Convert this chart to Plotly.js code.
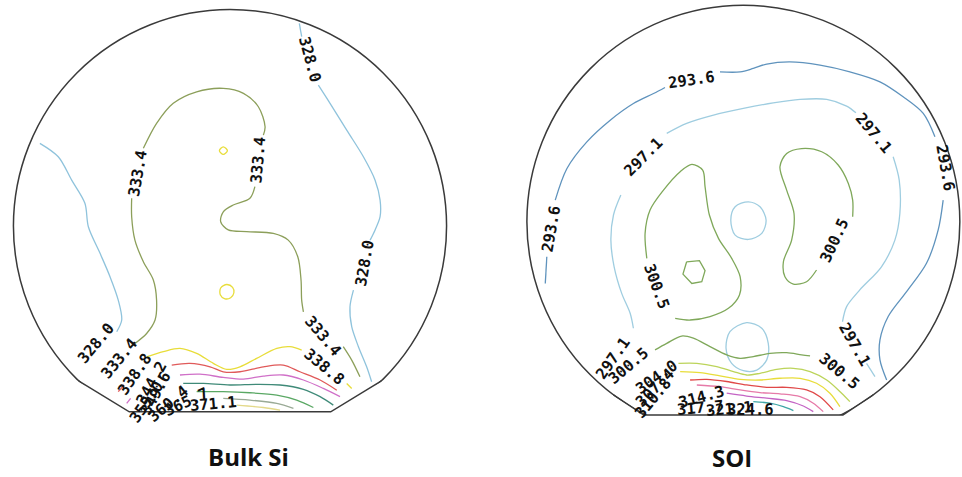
<!DOCTYPE html>
<html>
<head>
<meta charset="utf-8">
<script src="https://cdn.plot.ly/plotly-3.0.1.min.js"></script>
<style>html,body{margin:0;padding:0;background:#fff;}#chart{width:962px;height:477px;}</style>
</head>
<body>
<div id="chart"></div>
<script>
// ---------- DATA (wafer coordinates in mm, wafer radius 100 mm) ----------
const panelTitles = ["Bulk Si", "SOI"];

// Bulk Si contour levels
const bulkLevels = ["328.0", "333.4", "338.8", "344.2", "349.6", "355.0", "360.4", "365.7", "371.1"];

const bulk328 = [[-87.8,38.2],[-79.3,32.0],[-73.1,21.2],[-67.0,10.5],[-65.4,-0.3],[-60.0,-12.6],[-55.4,-23.4],[-51.6,-34.2],[-50.0,-43.4],[-52.3,-48.8],
  null,[32.0,93.6],[33.1,87.5],
  null,[40.8,65.1],[46.2,56.7],[53.9,44.3],[61.6,32.0],[67.0,21.2],[69.3,12.0],[69.3,4.3],[67.0,-1.8],[64.7,-6.5],
  null,[57.0,-29.6],[55.4,-37.3],[56.2,-46.5],[59.3,-55.7],[63.1,-65.0],[65.4,-71.9]];
const bulk333 = [[-43.9,-54.2],[-38.5,-49.6],[-34.6,-43.4],[-33.9,-34.2],[-35.4,-24.9],[-40.0,-16.5],[-43.9,-6.5],[-45.4,4.3],[-45.4,12.8],
  null,[-40.0,35.9],[-33.9,47.4],[-26.2,56.7],[-15.4,62.0],[-3.1,63.6],[6.2,61.3],[13.1,55.1],[16.2,45.9],[15.4,42.0],
  null,[11.5,18.2],[9.2,12.8],[1.5,9.7],[-3.1,6.6],[-4.3,2.0],[-0.8,-1.8],[7.7,-2.6],[20.0,-3.4],[26.9,-6.5],[31.3,-14.2],[32.8,-24.9],[33.1,-34.2],[33.9,-39.6],
  null,[52.3,-55.7],[56.2,-61.9],[60.0,-69.6]];
const bulk338 = [[-38.5,-60.4],[-30.8,-58.0],[-23.1,-56.5],[-15.4,-58.8],[-7.7,-63.4],[-1.5,-66.2],[4.6,-65.0],[12.3,-61.1],[21.6,-56.5],[27.7,-55.7],[33.1,-57.3],
  null,[53.9,-72.7],[56.2,-75.0],
  null,[-3.1,36.6],[-1.2,34.8],[-3.1,33.1],[-4.9,34.8],[-3.1,36.6],
  null,[-1.5,-27.0],[1.2,-28.3],[1.8,-30.8],[0.3,-33.1],[-2.3,-33.6],[-4.5,-31.7],[-4.3,-28.6],[-1.5,-27.0]];
const bulk344 = [[-26.9,-64.2],[-18.5,-63.4],[-9.2,-65.0],[-3.1,-67.3],[4.6,-67.3],[15.4,-65.0],[24.6,-64.2],[32.3,-67.3],[41.6,-71.1],[49.3,-75.8],
  null,[-51.6,-76.5],[-48.9,-73.4]];
const bulk349 = [[-23.1,-68.8],[-13.9,-68.4],[-3.1,-69.9],[6.2,-70.7],[15.4,-69.3],[24.6,-68.8],[33.9,-71.1],[43.1,-75.0],[50.8,-78.8],
  null,[-47.7,-81.9],[-45.9,-79.6]];
const bulk355 = [[-21.6,-72.7],[-12.3,-72.7],[0,-73.4],[12.3,-73.1],[23.1,-73.4],[33.9,-75.4],[41.6,-78.8],[47.7,-82.7]];
const bulk360 = [[-15.4,-76.5],[-3.1,-76.5],[9.2,-77.0],[21.6,-78.1],[30.8,-80.4],[38.5,-83.8]];
const bulk365 = [[-3.1,-79.6],[9.2,-80.4],[21.6,-81.9],[29.3,-84.2]];
const bulk371 = [[3.1,-82.7],[15.4,-83.8],[23.1,-85.0]];

// Bulk Si contour labels: [text, x, y, angle]
const bulkLabels = [
  ["328.0",36.9,76.7,75],["328.0",62.4,-17.2,-80],["333.4",-42.3,24.3,-80],["333.4",13.1,30.5,-85],
  ["333.4",42.7,-51.0,50],["338.8",43.5,-65.0,40],["328.0",-61.6,-54.2,-50],["333.4",-50.8,-61.1,-50],
  ["338.8",-43.9,-68.1,-55],["344.2",-36.2,-72.4,-62],["349.6",-34.2,-77.0,-62],["355.0",-38.5,-81.1,-55],
  ["360.4",-28.5,-82.2,-40],["365.7",-20.0,-81.1,-25],["371.1",-7.7,-82.2,-5]];

// SOI contour levels
const soiLevels = ["293.6", "297.1", "300.5", "304.0", "307.4", "310.8", "314.3", "317.7", "321.1"];

const soi293 = [[-91.5,-28.5],[-90.8,-16.2],
  null,[-86.9,10.0],[-81.5,24.6],[-72.3,36.9],[-61.5,46.9],[-50.8,54.6],[-41.5,59.2],[-36.2,62.0],
  null,[-10.8,69.2],[-1.5,69.2],[4.6,70.8],[10.8,72.8],[21.5,73.8],[35.4,72.3],[49.2,69.2],[63.1,64.6],[73.8,57.7],[83.1,50.0],[88.5,39.2],
  null,[92.3,10.0],[90.0,-3.8],[84.6,-19.2],[75.4,-32.3],[66.9,-43.8],[63.1,-54.6],[63.1,-63.8],[66.2,-73.1]];
const soi297 = [[-50.8,-49.2],[-52.3,-42.3],[-56.2,-33.1],[-59.7,-20.8],[-61.2,-8.5],[-60.0,3.1],[-56.6,12.3],
  null,[-35.4,40.8],[-26.2,45.4],[-13.8,49.2],[0.0,52.3],[13.8,54.9],[26.2,56.5],[38.5,56.5],[47.7,53.4],[52.0,50.3],
  null,[69.2,30.0],[72.0,19.2],[72.3,3.8],[70.0,-8.5],[63.8,-20.8],[53.8,-31.5],[47.7,-39.2],[45.8,-46.2],
  null,[56.9,-65.4],[60.8,-71.5],
  null,[2.3,9.2],[7.7,6.9],[10.5,0.8],[8.5,-5.4],[2.3,-8.2],[-3.8,-6.2],[-5.8,0.8],[-3.8,6.9],[2.3,9.2],
  null,[1.5,-46.6],[8.5,-49.2],[11.5,-56.2],[10.8,-63.8],[6.2,-68.5],[0,-68.8],[-5.4,-65.4],[-8.0,-58.5],[-6.2,-50.8],[1.5,-46.6]];
const soi300 = [[-31.5,-44.6],[-24.6,-45.4],[-15.4,-43.8],[-6.9,-40.0],[-1.8,-33.8],[-1.5,-25.4],[-5.4,-16.9],[-11.5,-7.7],[-15.7,3.1],[-17.7,16.2],[-18.8,23.8],[-23.8,26.5],[-29.2,23.1],[-36.9,14.6],[-43.1,5.4],[-45.4,-5.4],[-44.6,-16.9],
  null,[50.5,2.3],[50.5,10.0],[48.5,17.7],[43.8,26.2],[36.2,32.3],[26.9,33.8],[20.0,31.5],[16.9,25.4],[20.0,14.6],[23.4,3.8],[22.3,-8.5],[18.5,-18.5],[19.2,-25.4],[23.1,-28.8],[29.2,-27.7],[33.8,-22.3],
  null,[-40.8,-59.2],[-35.4,-56.2],[-28.5,-52.8],[-23.1,-53.8],[-15.4,-57.7],[-7.7,-61.5],[-1.5,-63.1],[4.6,-62.3],[12.3,-60.8],[20.0,-60.5],[26.9,-61.5],[30.8,-62.0]];
const soi300hex = [[-26.2,-18.5],[-20.3,-18.0],[-17.7,-22.6],[-19.2,-27.7],[-23.8,-28.5],[-27.9,-24.2],[-26.2,-18.5]];
const soi304 = [[-30.0,-65.4],[-21.5,-65.4],[-12.3,-66.9],[-4.6,-69.2],[1.5,-70.8],[7.7,-70.0],[15.4,-68.2],[23.1,-67.7],[30.8,-69.2],[38.5,-73.1],[45.4,-79.2],[49.2,-83.1]];
const soi307 = [[-29.2,-69.2],[-20.0,-69.7],[-10.8,-71.2],[-1.5,-72.8],[7.7,-73.1],[16.9,-72.3],[26.2,-72.3],[33.8,-74.6],[40.0,-79.2],[44.6,-85.4]];
const soi310 = [[-24.6,-73.1],[-16.9,-72.8],[-7.7,-73.8],[1.5,-75.4],[10.8,-76.5],[20.0,-76.5],[29.2,-77.7],[35.4,-80.8],[41.5,-86.9]];
const soi314 = [[-21.5,-75.4],[-10.8,-76.2],[-1.5,-77.7],[7.7,-78.9],[16.9,-79.5],[26.2,-80.8],[32.3,-83.8],[36.9,-87.7]];
const soi317 = [[-7.7,-79.2],[1.5,-80.5],[10.8,-81.5],[20.0,-82.6],[27.7,-85.1],[32.3,-87.7]];
const soi321 = [[4.6,-83.1],[12.3,-83.8],[18.5,-85.4],[23.1,-87.2]];

// SOI contour labels: [text, x, y, angle]
const soiLabels = [
  ["293.6",-23.8,65.4,-8],["293.6",-88.5,-3.1,-80],["293.6",93.1,24.6,80],["297.1",-46.2,30.0,-45],
  ["297.1",60.0,40.8,50],["300.5",-40.0,-30.0,70],["300.5",42.3,-8.5,-65],["297.1",51.5,-56.9,60],
  ["300.5",44.6,-69.2,40],["297.1",-60.0,-63.1,-55],["300.5",-53.1,-66.5,-40],["304.0",-40.0,-71.5,-35],
  ["307.4",-40.8,-76.9,-45],["310.8",-41.5,-81.5,-50],["314.3",-19.2,-80.8,-15],["317.7",-20.0,-86.2,-5],
  ["321.1",-6.2,-86.6,-5],["324.6",3.1,-86.9,0]];

// ---------- STYLE ----------
const bulkColors = ["#8fc3dc","#8c9f5a","#e8dd3a","#e05a5a","#d070c8","#3f8a78","#5aa864","#9aaa96","#e3d98a"];
const soiColors  = ["#5f93bd","#9fcde0","#7fa85a","#bcd45a","#e8dd3a","#e04848","#e67aa8","#c463c4","#3fa6a6"];

function xy(pts){ return {x: pts.map(p => p ? p[0] : null), y: pts.map(p => p ? p[1] : null)}; }
function lineTrace(pts, color, xa, ya, name, shape){
  const d = xy(pts);
  return {type:'scatter', mode:'lines', x:d.x, y:d.y, xaxis:xa, yaxis:ya, name:name,
    line:{color:color, width:1.3, shape: shape || 'spline', smoothing:0.9},
    connectgaps:false, hoverinfo:'skip', showlegend:false};
}

const bulkSets = [bulk328,bulk333,bulk338,bulk344,bulk349,bulk355,bulk360,bulk365,bulk371];
const soiSets  = [soi293,soi297,soi300,soi304,soi307,soi310,soi314,soi317,soi321];

const traces = [];
bulkSets.forEach((s,i) => traces.push(lineTrace(s, bulkColors[i], 'x', 'y', bulkLevels[i])));
soiSets.forEach((s,i) => traces.push(lineTrace(s, soiColors[i], 'x2', 'y2', soiLevels[i])));
traces.push(lineTrace(soi300hex, soiColors[2], 'x2', 'y2', soiLevels[2], 'linear'));

// wafer outlines
const R = 100;
function waferShapes(xr, yr, flatY, flatHalf, kinkY){
  const kx = Math.sqrt(R*R - kinkY*kinkY);
  const oc = '#3a3a3a';
  return [
    {type:'circle', xref:xr, yref:yr, x0:-R, x1:R, y0:-R, y1:R, line:{color:oc, width:1.5}, layer:'above'},
    {type:'path', xref:xr, yref:yr, layer:'above', fillcolor:'#ffffff', line:{width:0},
     path:`M ${-kx-0.6},${kinkY} L ${-flatHalf},${flatY} L ${flatHalf},${flatY} L ${kx+0.6},${kinkY} L ${R+6},${kinkY} L ${R+6},${-R-12} L ${-R-6},${-R-12} L ${-R-6},${kinkY} Z`},
    {type:'path', xref:xr, yref:yr, layer:'above', line:{color:oc, width:1.5},
     path:`M ${-kx},${kinkY} L ${-flatHalf},${flatY} L ${flatHalf},${flatY} L ${kx},${kinkY}`}
  ];
}
const shapes = [].concat(
  waferShapes('x','y', -85.8, 46.5, -71.5),
  waferShapes('x2','y2', -89.3, 46, -80)
);

const labelFont = {family:'DejaVu Sans Mono', size:15.5, color:'#111', weight:'bold'};
const annotations = [];
bulkLabels.forEach(l => annotations.push({xref:'x', yref:'y', x:l[1], y:l[2], text:l[0], textangle:l[3],
  showarrow:false, xanchor:'center', yanchor:'middle', font:labelFont}));
soiLabels.forEach(l => annotations.push({xref:'x2', yref:'y2', x:l[1], y:l[2], text:l[0], textangle:l[3],
  showarrow:false, xanchor:'center', yanchor:'middle', font:labelFont}));
const titleFont = {family:'Open Sans', size:24, color:'#111', weight:'bold'};
annotations.push({xref:'paper', yref:'paper', x:0.258, y:0.042, text:panelTitles[0], showarrow:false, xanchor:'center', yanchor:'middle', font:titleFont});
annotations.push({xref:'paper', yref:'paper', x:0.761, y:0.040, text:panelTitles[1], showarrow:false, xanchor:'center', yanchor:'middle', font:titleFont});

const hidden = {visible:false, showgrid:false, zeroline:false, fixedrange:true};
const layout = {
  width:962, height:477, margin:{l:0,r:0,t:0,b:0},
  paper_bgcolor:'#ffffff', plot_bgcolor:'rgba(0,0,0,0)', showlegend:false,
  xaxis: Object.assign({}, hidden, {domain:[0,0.5], range:[-106.2,115.9]}),
  yaxis: Object.assign({}, hidden, {domain:[0,1], range:[-115.9,104.4]}),
  xaxis2: Object.assign({}, hidden, {domain:[0.5,1], range:[-121.2,101.0]}),
  yaxis2: Object.assign({}, hidden, {domain:[0,1], range:[-117.9,102.4]}),
  shapes: shapes, annotations: annotations
};
Plotly.newPlot('chart', traces, layout, {staticPlot:true, displayModeBar:false});
</script>
</body>
</html>
